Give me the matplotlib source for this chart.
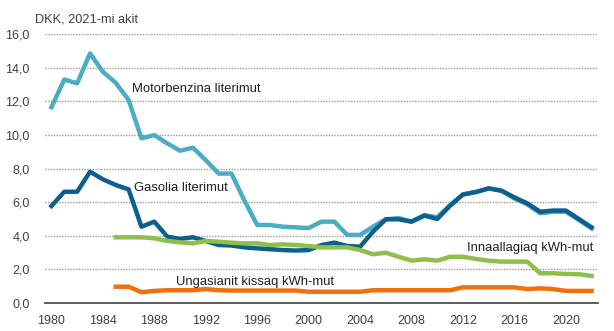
import numpy as np
import matplotlib.pyplot as plt

years = np.arange(1980, 2023)
years_el = np.arange(1985, 2023)

# Motorbenzina literimut
benzin = [11.65, 13.3, 13.07, 14.85, 13.76, 13.1, 12.08, 9.8, 9.99, 9.5,
          9.06, 9.24, 8.5, 7.7, 7.7, 6.1, 4.64, 4.64, 4.54, 4.5,
          4.46, 4.84, 4.84, 4.05, 4.05, 4.54, 4.98, 5.05, 4.84, 5.23,
          5.1, 5.83, 6.46, 6.6, 6.82, 6.68, 6.22, 5.87, 5.34, 5.43,
          5.43, 4.94, 4.44]

# Gasolia literimut
gasolie = [5.77, 6.62, 6.62, 7.81, 7.36, 7.02, 6.76, 4.54, 4.84, 3.95,
           3.81, 3.91, 3.69, 3.45, 3.42, 3.31, 3.25, 3.2, 3.15, 3.12,
           3.15, 3.45, 3.59, 3.39, 3.35, 4.24, 4.98, 4.98, 4.84, 5.2,
           5.0, 5.79, 6.46, 6.6, 6.82, 6.68, 6.28, 5.93, 5.43, 5.5,
           5.5, 5.0, 4.5]

# Innaallagiaq kWh-mut
inna = [3.91, 3.91, 3.91, 3.85, 3.69, 3.61, 3.55, 3.69, 3.65, 3.59,
        3.55, 3.55, 3.45, 3.49, 3.45, 3.39, 3.31, 3.31, 3.31, 3.15,
        2.9, 2.99, 2.75, 2.52, 2.6, 2.52, 2.75, 2.75, 2.62, 2.52,
        2.46, 2.46, 2.46, 1.77, 1.77, 1.73, 1.71, 1.61]

# Ungasianit kissaq kWh-mut
ungas = [0.97, 0.97, 0.64, 0.72, 0.76, 0.76, 0.76, 0.83, 0.76, 0.74,
         0.74, 0.74, 0.74, 0.74, 0.74, 0.67, 0.67, 0.67, 0.67, 0.67,
         0.76, 0.76, 0.76, 0.76, 0.76, 0.76, 0.76, 0.93, 0.93, 0.93,
         0.93, 0.93, 0.83, 0.87, 0.83, 0.72, 0.72, 0.72]

plt.rcParams['font.family'] = ['Liberation Sans', 'DejaVu Sans']

fig = plt.figure(figsize=(6.14, 3.31), dpi=100)
ax = fig.add_axes([0.0733, 0.0846, 0.9007, 0.8124])

ax.plot(years, benzin, color='#4BACC6', lw=3.2, solid_joinstyle='round')
ax.plot(years, gasolie, color='#0E5F8F', lw=3.2, solid_joinstyle='round')
ax.plot(years_el, inna, color='#8DC04A', lw=3.2, solid_joinstyle='round')
ax.plot(years_el, ungas, color='#F07010', lw=3.2, solid_joinstyle='round')

ax.set_xlim(1979.5, 2022.5)
ax.set_ylim(0, 16)
ax.set_yticks(np.arange(0, 17, 2))
ax.set_yticklabels([f"{v:.1f}".replace('.', ',') for v in np.arange(0, 17, 2)])
ax.set_xticks(np.arange(1980, 2023, 4))

for s in ['top', 'right', 'left']:
    ax.spines[s].set_visible(False)
ax.spines['bottom'].set_color('#404040')
ax.spines['bottom'].set_linewidth(1.2)
ax.tick_params(length=0, labelsize=9, colors='#404040')
ax.tick_params(axis='y', pad=11)
ax.tick_params(axis='x', pad=9)
ax.yaxis.grid(True, color='#9A9A9A', linestyle=(0, (1, 1)), lw=1)
ax.set_axisbelow(True)

ax.text(0.057, 0.94, "DKK, 2021-mi akit", transform=fig.transFigure,
        fontsize=9.2, color='#404040', va='center')
ax.text(1986.3, 12.73, "Motorbenzina literimut", fontsize=9.4, color='#202020', va='center')
ax.text(1986.4, 6.84, "Gasolia literimut", fontsize=9.4, color='#202020', va='center')
ax.text(1989.7, 1.25, "Ungasianit kissaq kWh-mut", fontsize=9.4, color='#202020', va='center')
ax.text(2012.35, 3.27, "Innaallagiaq kWh-mut", fontsize=9.4, color='#202020', va='center')

fig.savefig("out.png", dpi=100)
